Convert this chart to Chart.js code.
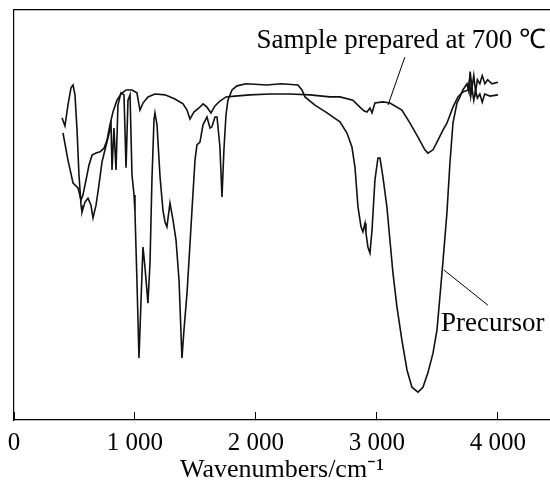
<!DOCTYPE html>
<html>
<head>
<meta charset="utf-8">
<script src="https://cdn.jsdelivr.net/npm/chart.js@4.4.0/dist/chart.umd.min.js"></script>
<style>
  html, body { margin: 0; padding: 0; background: #fff; overflow: hidden; }
  canvas { display: block; }
</style>
</head>
<body>
<canvas id="ir" width="550" height="491"></canvas>
<script>
// FTIR spectra, values: wavenumber (cm-1) and transmittance (%)
const precursorWn = [397, 421, 446, 471, 488, 504, 521, 537, 554, 562, 587, 612, 636, 653, 678, 702, 727, 752, 777, 802,
  810, 826, 843, 859, 884, 909, 926, 942, 959, 975, 992, 1000, 1016, 1033, 1050, 1066, 1083, 1107, 1124, 1140,
  1157, 1165, 1182, 1207, 1231, 1248, 1264, 1289, 1314, 1339, 1364, 1388, 1405, 1430, 1454, 1471, 1496, 1512, 1537, 1562,
  1595, 1620, 1636, 1661, 1678, 1702, 1719, 1735, 1752, 1768, 1802, 1843, 1917, 2091, 2206, 2347, 2380, 2405, 2487, 2578,
  2694, 2752, 2793, 2818, 2843, 2868, 2884, 2901, 2909, 2925, 2942, 2959, 2983, 3008, 3025, 3049, 3082, 3107, 3132, 3165,
  3206, 3248, 3289, 3339, 3380, 3421, 3463, 3496, 3520, 3545, 3578, 3603, 3628, 3661, 3686, 3710, 3744, 3760, 3770, 3785,
  3800, 3815, 3830, 3850, 3870, 3892, 3915, 3950, 4000];
const precursorT = [73.7, 71.7, 76.8, 81.0, 81.7, 79.3, 70.7, 59.8, 52.4, 50.7, 53.2, 54.1, 52.4, 49.3, 52.4, 57.3, 62.9, 65.9, 68.8, 72.0,
  61.0, 71.2, 61.0, 76.8, 79.8, 79.3, 61.5, 78.0, 79.3, 59.8, 54.9, 50.5, 34.1, 15.1, 29.3, 42.2, 37.1, 28.5, 38.3, 58.5,
  73.2, 74.9, 72.0, 59.3, 51.2, 48.3, 47.1, 52.9, 48.8, 43.9, 34.1, 15.1, 22.0, 31.0, 42.7, 51.2, 63.4, 67.1, 67.8, 72.0,
  73.9, 71.2, 71.5, 73.9, 73.9, 66.6, 54.4, 65.9, 74.4, 78.0, 80.5, 81.5, 82.0, 81.7, 82.0, 81.7, 80.5, 78.8, 76.8, 75.1,
  72.7, 70.0, 66.6, 61.7, 52.0, 47.1, 45.9, 48.0, 45.6, 42.2, 40.7, 46.3, 58.5, 63.9, 63.9, 59.3, 52.0, 43.9, 35.9, 27.6,
  19.5, 12.2, 8.0, 6.8, 8.0, 11.5, 16.3, 22.0, 30.0, 38.5, 50.5, 62.7, 72.4, 77.3, 78.8, 80.5, 82.0, 80.0, 85.0, 81.0,
  84.0, 80.0, 83.0, 82.0, 84.0, 82.0, 83.0, 82.0, 82.4];

const sampleWn = [405, 446, 488, 529, 554, 570, 595, 620, 645, 678, 711, 744, 769, 793, 818, 851, 884, 926, 975, 1016,
  1041, 1066, 1107, 1165, 1248, 1330, 1397, 1430, 1454, 1487, 1529, 1562, 1595, 1628, 1661, 1702, 1752, 1826, 1950, 2116,
  2281, 2446, 2611, 2694, 2801, 2859, 2892, 2917, 2942, 2959, 2983, 3049, 3107, 3206, 3273, 3339, 3396, 3421, 3463, 3496,
  3545, 3578, 3628, 3669, 3710, 3752, 3765, 3775, 3785, 3800, 3815, 3830, 3850, 3870, 3890, 3934, 4000];
const sampleT = [70.0, 63.4, 57.8, 56.6, 53.7, 54.9, 58.5, 62.2, 64.6, 65.1, 65.4, 66.3, 68.3, 72.0, 75.1, 78.0, 79.5, 80.5, 80.5, 79.8,
  75.6, 77.3, 78.8, 79.5, 79.3, 78.3, 77.1, 75.6, 73.4, 75.1, 76.1, 77.1, 76.3, 74.9, 76.6, 77.8, 78.8, 79.0, 79.3, 79.5,
  79.5, 79.3, 78.8, 78.8, 78.0, 76.3, 75.4, 75.1, 76.1, 74.9, 77.3, 77.6, 77.3, 75.6, 72.4, 69.0, 65.9, 65.1, 65.9, 67.8,
  70.7, 72.4, 76.3, 78.8, 80.0, 80.5, 83.0, 79.0, 81.0, 78.0, 80.5, 78.5, 79.5, 77.5, 79.5, 79.0, 79.3];

const xTicks = [0, 1000, 2000, 3000, 4000];
const xMax = 4430;

const serif = "'Liberation Serif', 'Times New Roman', serif";

function toPoints(xs, ys) {
  return xs.map((v, i) => ({ x: v, y: ys[i] }));
}

// labels with pointer lines
const labelPlugin = {
  id: 'irLabels',
  afterDatasetsDraw(chart) {
    const { ctx, scales: { x, y } } = chart;
    ctx.save();
    ctx.strokeStyle = '#000';
    ctx.lineWidth = 1;
    ctx.beginPath();
    ctx.moveTo(x.getPixelForValue(3230), y.getPixelForValue(88.5));
    ctx.lineTo(x.getPixelForValue(3091), y.getPixelForValue(76.8));
    ctx.moveTo(x.getPixelForValue(3553), y.getPixelForValue(36.6));
    ctx.lineTo(x.getPixelForValue(3917), y.getPixelForValue(28.0));
    ctx.stroke();

    ctx.fillStyle = '#000';
    ctx.font = '27px ' + serif;
    ctx.textBaseline = 'middle';
    ctx.textAlign = 'right';
    ctx.fillText('Sample prepared at 700 ℃', x.getPixelForValue(4396), y.getPixelForValue(92.4));
    ctx.textAlign = 'left';
    ctx.fillText('Precursor', x.getPixelForValue(3530), y.getPixelForValue(23.4));
    ctx.restore();
  }
};

new Chart('ir', {
  type: 'line',
  data: {
    datasets: [{
      label: 'Precursor',
      data: toPoints(precursorWn, precursorT),
      borderColor: '#111',
      borderWidth: 1.6,
      pointRadius: 0,
      tension: 0,
      fill: false
    }, {
      label: 'Sample prepared at 700 ℃',
      data: toPoints(sampleWn, sampleT),
      borderColor: '#111',
      borderWidth: 1.6,
      pointRadius: 0,
      tension: 0,
      fill: false
    }]
  },
  options: {
    responsive: false,
    animation: false,
    layout: { padding: { top: 10, right: 0, left: 0, bottom: 0 } },
    plugins: {
      legend: { display: false },
      tooltip: { enabled: false }
    },
    scales: {
      x: {
        type: 'linear',
        position: 'bottom',
        min: 0,
        max: xMax,
        afterBuildTicks: s => { s.ticks = xTicks.map(v => ({ value: v })); },
        afterFit: s => { s.height = 71; s.paddingLeft = 0; s.paddingRight = 0; },
        ticks: {
          color: '#000',
          font: { family: serif, size: 25 },
          padding: 16,
          maxRotation: 0,
          callback: v => v === 0 ? '0' : (v / 1000) + ' 000'
        },
        grid: { drawOnChartArea: false, drawTicks: true, tickLength: -8, color: '#000', lineWidth: 1 },
        border: { display: true, color: '#000', width: 1.2 },
        title: {
          display: true,
          text: 'Wavenumbers/cm⁻¹',
          color: '#000',
          font: { family: serif, size: 26 },
          padding: { top: 0, bottom: 5 }
        }
      },
      xTop: {
        type: 'linear',
        position: 'top',
        min: 0,
        max: xMax,
        afterFit: s => { s.height = 0; s.paddingLeft = 0; s.paddingRight = 0; },
        ticks: { display: false },
        grid: { display: false },
        border: { display: true, color: '#000', width: 1.2 }
      },
      y: {
        min: 0,
        max: 100,
        afterFit: s => { s.width = 14; },
        ticks: { display: false },
        grid: { display: false },
        border: { display: true, color: '#000', width: 1.2 }
      }
    }
  },
  plugins: [labelPlugin]
});
</script>
</body>
</html>
